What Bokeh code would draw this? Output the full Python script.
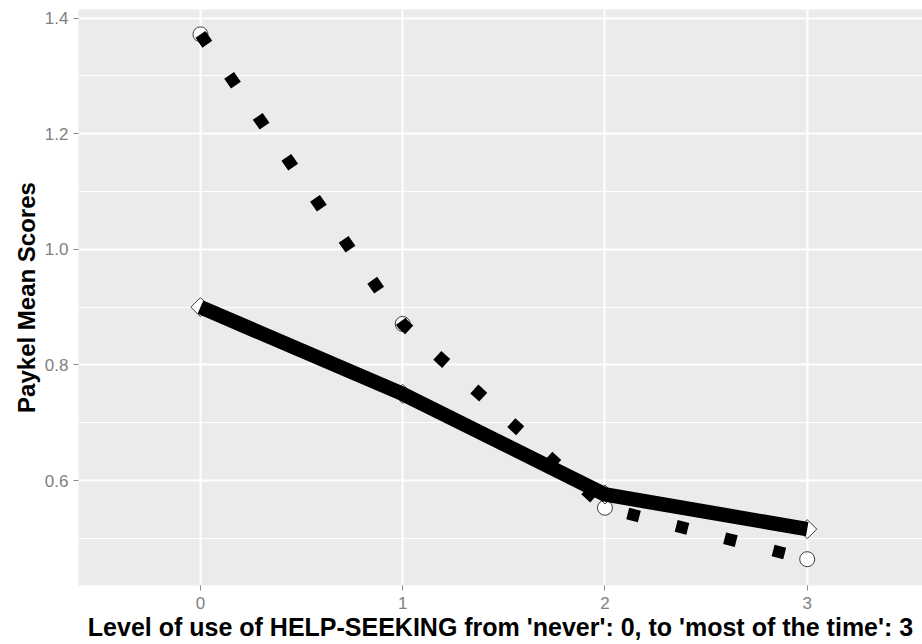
import numpy as np
from bokeh.plotting import figure
from bokeh.models import FixedTicker, Range1d, NumeralTickFormatter
from bokeh.embed import file_html
from bokeh.resources import INLINE

# Data
levels = [0, 1, 2, 3]
dotted_means = [1.372, 0.871, 0.553, 0.464]   # series drawn with open circles + dotted line
solid_means = [0.900, 0.750, 0.576, 0.516]    # series drawn with open diamonds + solid line
x_ticks = [0, 1, 2, 3]
y_ticks = [0.6, 0.8, 1.0, 1.2, 1.4]
y_minor = [0.5, 0.7, 0.9, 1.1, 1.3]
x_title = "Level of use of HELP-SEEKING from 'never': 0, to 'most of the time': 3"
y_title = "Paykel Mean Scores"

p = figure(width=922, height=644, output_backend="svg", toolbar_location=None,
           x_range=Range1d(-0.603, 3.57), y_range=Range1d(0.4185, 1.415),
           min_border_left=78, min_border_right=0, min_border_top=9, min_border_bottom=59)

p.border_fill_color = "white"
p.outline_line_color = None
p.background_fill_color = "#ebebeb"

# grids
p.xaxis.ticker = FixedTicker(ticks=x_ticks)
p.yaxis.ticker = FixedTicker(ticks=y_ticks, minor_ticks=y_minor)
p.xgrid.grid_line_color = "white"
p.xgrid.grid_line_width = 2
p.ygrid.grid_line_color = "white"
p.ygrid.grid_line_width = 2
p.ygrid.minor_grid_line_color = "white"
p.ygrid.minor_grid_line_width = 1
p.xgrid.minor_grid_line_color = None

p.yaxis.formatter = NumeralTickFormatter(format="0.0")

for ax in (p.xaxis, p.yaxis):
    ax.axis_line_color = None
    ax.major_tick_line_color = "#8a8a8a"
    ax.major_tick_line_width = 1
    ax.major_tick_in = 0
    ax.major_tick_out = 5
    ax.minor_tick_line_color = None
    ax.major_label_text_color = "#808080"
    ax.major_label_text_font = "Liberation Sans"
    ax.major_label_text_font_size = "17px"
    ax.axis_label_text_font = "Liberation Sans"
    ax.axis_label_text_font_style = "bold"
    ax.axis_label_text_color = "black"

p.xaxis.axis_label = x_title
p.yaxis.axis_label = y_title
p.xaxis.axis_label_text_font_size = "25px"
p.yaxis.axis_label_text_font_size = "24px"
p.xaxis.major_label_standoff = 6
p.yaxis.major_label_standoff = 5
p.xaxis.axis_label_standoff = 1
p.yaxis.axis_label_standoff = 2

# markers (under the lines)
p.scatter(levels, dotted_means, marker="circle", size=15,
          fill_color="white", line_color="#3a3a3a", line_width=1)
p.scatter(levels, solid_means, marker="square", angle=np.pi / 4, size=13.5,
          fill_color="white", line_color="#3a3a3a", line_width=1)

# lines
p.line(levels, dotted_means, line_color="black", line_width=12,
       line_dash="12 38", line_cap="butt", line_join="round")
p.line(levels, solid_means, line_color="black", line_width=14.5,
       line_cap="butt", line_join="round")

open("out.html", "w").write(file_html(p, INLINE))
